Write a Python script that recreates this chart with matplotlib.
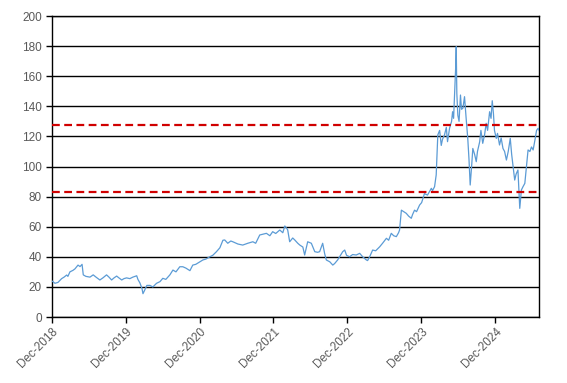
import matplotlib
matplotlib.use("Agg")
import matplotlib.pyplot as plt
import matplotlib.dates as mdates
import pandas as pd

# price series (approximate)
dates = [
    "2018-12-01", "2018-12-07", "2018-12-17", "2019-01-01", "2019-01-19", "2019-01-31",
    "2019-02-13", "2019-02-19", "2019-03-01", "2019-03-16", "2019-03-26", "2019-04-10",
    "2019-04-20", "2019-04-30", "2019-05-06", "2019-05-19", "2019-06-08", "2019-06-24",
    "2019-07-08", "2019-07-27", "2019-08-11", "2019-08-29", "2019-09-10", "2019-09-23",
    "2019-10-05", "2019-10-18", "2019-10-29", "2019-11-12", "2019-11-23", "2019-12-06",
    "2019-12-22", "2020-01-06", "2020-01-25", "2020-01-31", "2020-02-10", "2020-02-20",
    "2020-02-25", "2020-03-05", "2020-03-15", "2020-03-30", "2020-04-14", "2020-05-02",
    "2020-05-19", "2020-06-02", "2020-06-17", "2020-07-07", "2020-07-22", "2020-08-06",
    "2020-08-25", "2020-09-09", "2020-09-24", "2020-10-14", "2020-10-28", "2020-11-12",
    "2020-12-02", "2020-12-17", "2021-01-01", "2021-01-20", "2021-02-04", "2021-02-22",
    "2021-03-11", "2021-03-26", "2021-04-04", "2021-04-19", "2021-05-04", "2021-05-14",
    "2021-06-08", "2021-07-02", "2021-07-27", "2021-08-21", "2021-09-04", "2021-09-24",
    "2021-10-09", "2021-10-27", "2021-11-13", "2021-11-27", "2021-12-12", "2022-01-01",
    "2022-01-16", "2022-01-26", "2022-02-03", "2022-02-09", "2022-02-19", "2022-03-06",
    "2022-03-16", "2022-03-31", "2022-04-10", "2022-04-25", "2022-05-04", "2022-05-19",
    "2022-06-06", "2022-06-23", "2022-07-07", "2022-07-17", "2022-08-01", "2022-08-11",
    "2022-08-19", "2022-09-05", "2022-09-20", "2022-09-29", "2022-10-14", "2022-11-08",
    "2022-11-18", "2022-11-27", "2022-12-12", "2022-12-27", "2023-01-14", "2023-01-31",
    "2023-02-15", "2023-03-05", "2023-03-11", "2023-03-21", "2023-04-05", "2023-04-20",
    "2023-05-10", "2023-05-24", "2023-06-12", "2023-06-23", "2023-07-06", "2023-07-18",
    "2023-07-31", "2023-08-11", "2023-08-16", "2023-08-25", "2023-09-05", "2023-09-18",
    "2023-09-30", "2023-10-13", "2023-10-19", "2023-10-29", "2023-11-08", "2023-11-23",
    "2023-12-03", "2023-12-17", "2024-01-01", "2024-01-20", "2024-01-26", "2024-02-05",
    "2024-02-13", "2024-02-21", "2024-03-01", "2024-03-09", "2024-03-15", "2024-03-25",
    "2024-04-03", "2024-04-09", "2024-04-19", "2024-04-29", "2024-05-04", "2024-05-09",
    "2024-05-14", "2024-05-19", "2024-05-22", "2024-05-25", "2024-05-30", "2024-06-05",
    "2024-06-12", "2024-06-17", "2024-06-24", "2024-07-02", "2024-07-10", "2024-07-18",
    "2024-07-24", "2024-07-30", "2024-08-06", "2024-08-12", "2024-08-21", "2024-08-29",
    "2024-09-04", "2024-09-15", "2024-09-21", "2024-09-30", "2024-10-09", "2024-10-17",
    "2024-10-24", "2024-11-03", "2024-11-10", "2024-11-16", "2024-11-22", "2024-11-27",
    "2024-12-06", "2024-12-12", "2024-12-22", "2024-12-30", "2025-01-08", "2025-01-16",
    "2025-01-25", "2025-02-03", "2025-02-13", "2025-02-20", "2025-02-27", "2025-03-07",
    "2025-03-14", "2025-03-23", "2025-03-27", "2025-04-01", "2025-04-09", "2025-04-17",
    "2025-04-26", "2025-05-04", "2025-05-12", "2025-05-21", "2025-05-29", "2025-06-06",
    "2025-06-15", "2025-06-23", "2025-07-01", "2025-07-05",
]
prices = [
    24.0, 23.5, 22.4, 23.0, 25.5, 26.5,
    27.9, 27.0, 30.0, 31.0, 32.0, 34.5,
    33.5, 35.0, 28.0, 27.0, 26.5, 28.0,
    26.5, 24.6, 26.0, 28.0, 26.5, 24.6,
    26.0, 27.2, 26.0, 24.6, 25.5, 26.0,
    25.5, 26.5, 27.4, 25.0, 22.6, 19.0,
    15.5, 18.0, 21.0, 21.0, 20.0, 22.4,
    23.5, 25.7, 25.0, 28.0, 31.2, 30.0,
    33.4, 33.4, 32.5, 30.8, 34.5, 35.0,
    36.7, 37.9, 38.5, 40.0, 41.0, 43.4,
    46.0, 51.0, 51.2, 49.0, 50.5, 50.0,
    48.5, 47.8, 49.0, 50.0, 49.0, 54.5,
    55.0, 55.6, 54.0, 56.7, 55.5, 57.8,
    56.0, 60.5, 59.0, 58.0, 50.0, 52.5,
    51.2, 49.0, 47.8, 46.5, 41.2, 50.0,
    49.0, 43.4, 43.0, 43.4, 49.0, 42.0,
    37.9, 36.7, 34.5, 35.5, 37.9, 43.4,
    44.5, 41.0, 40.0, 41.5, 41.2, 42.3,
    40.0, 37.9, 37.5, 40.0, 44.5, 44.0,
    46.7, 49.0, 52.3, 51.0, 55.6, 54.0,
    53.4, 56.0, 57.8, 71.0, 70.0, 68.9,
    67.0, 65.6, 68.0, 71.0, 70.0, 74.4,
    76.0, 82.0, 81.0, 85.5, 84.0, 86.6,
    94.4, 121.0, 124.0, 114.0, 118.0, 121.0,
    126.0, 116.5, 125.4, 130.0, 136.4, 132.0,
    148.6, 165.0, 179.6, 148.6, 134.0, 130.0,
    147.5, 138.0, 138.7, 146.4, 132.0, 118.7,
    105.0, 87.7, 100.0, 112.0, 108.0, 103.2,
    110.0, 116.5, 124.0, 115.4, 121.0, 128.7,
    124.0, 136.4, 132.0, 143.7, 135.0, 124.0,
    118.7, 122.0, 114.3, 119.0, 112.0, 110.0,
    104.3, 110.0, 118.7, 108.0, 100.0, 91.0,
    95.0, 97.7, 86.0, 72.2, 84.4, 86.6,
    88.8, 100.0, 111.0, 110.0, 113.0, 111.0,
    117.6, 124.0, 125.4, 124.0,
]

# reference levels (red dashed)
upper_level = 127.5
lower_level = 83.3

x_start = "2018-12-01"
x_end = "2025-07-05"
tick_years = [2018, 2019, 2020, 2021, 2022, 2023, 2024]

plt.rcParams['font.family'] = ['Liberation Sans', 'DejaVu Sans']

fig = plt.figure(figsize=(5.67, 3.83), dpi=100)
ax = fig.add_axes([0.0912, 0.1723, 0.8594, 0.7859])

ax.set_ylim(0, 200)
ax.set_yticks(range(0, 201, 20))
ax.grid(axis='y', color='black', linewidth=1.0)
ax.set_axisbelow(True)

ax.plot(pd.to_datetime(dates), prices, color='#5B9BD5', linewidth=0.9, zorder=3)
ax.axhline(upper_level, color='#D00000', linestyle=(0, (3.5, 2)), linewidth=1.6, zorder=4)
ax.axhline(lower_level, color='#D00000', linestyle=(0, (3.5, 2)), linewidth=1.6, zorder=4)

ax.set_xlim(pd.Timestamp(x_start), pd.Timestamp(x_end))
ticks = [pd.Timestamp(f"{y}-12-01") for y in tick_years]
ax.set_xticks(ticks)
ax.set_xticklabels([t.strftime("Dec-%Y") for t in ticks], rotation=45,
                   ha='right', rotation_mode='anchor')

for s in ax.spines.values():
    s.set_color('black')
    s.set_linewidth(1.0)
ax.tick_params(axis='both', direction='out', length=4, width=1, color='black',
               labelsize=8.5, labelcolor='#595959')
ax.tick_params(axis='y', pad=3)
ax.tick_params(axis='x', pad=2)

fig.savefig("out.png", dpi=100)
